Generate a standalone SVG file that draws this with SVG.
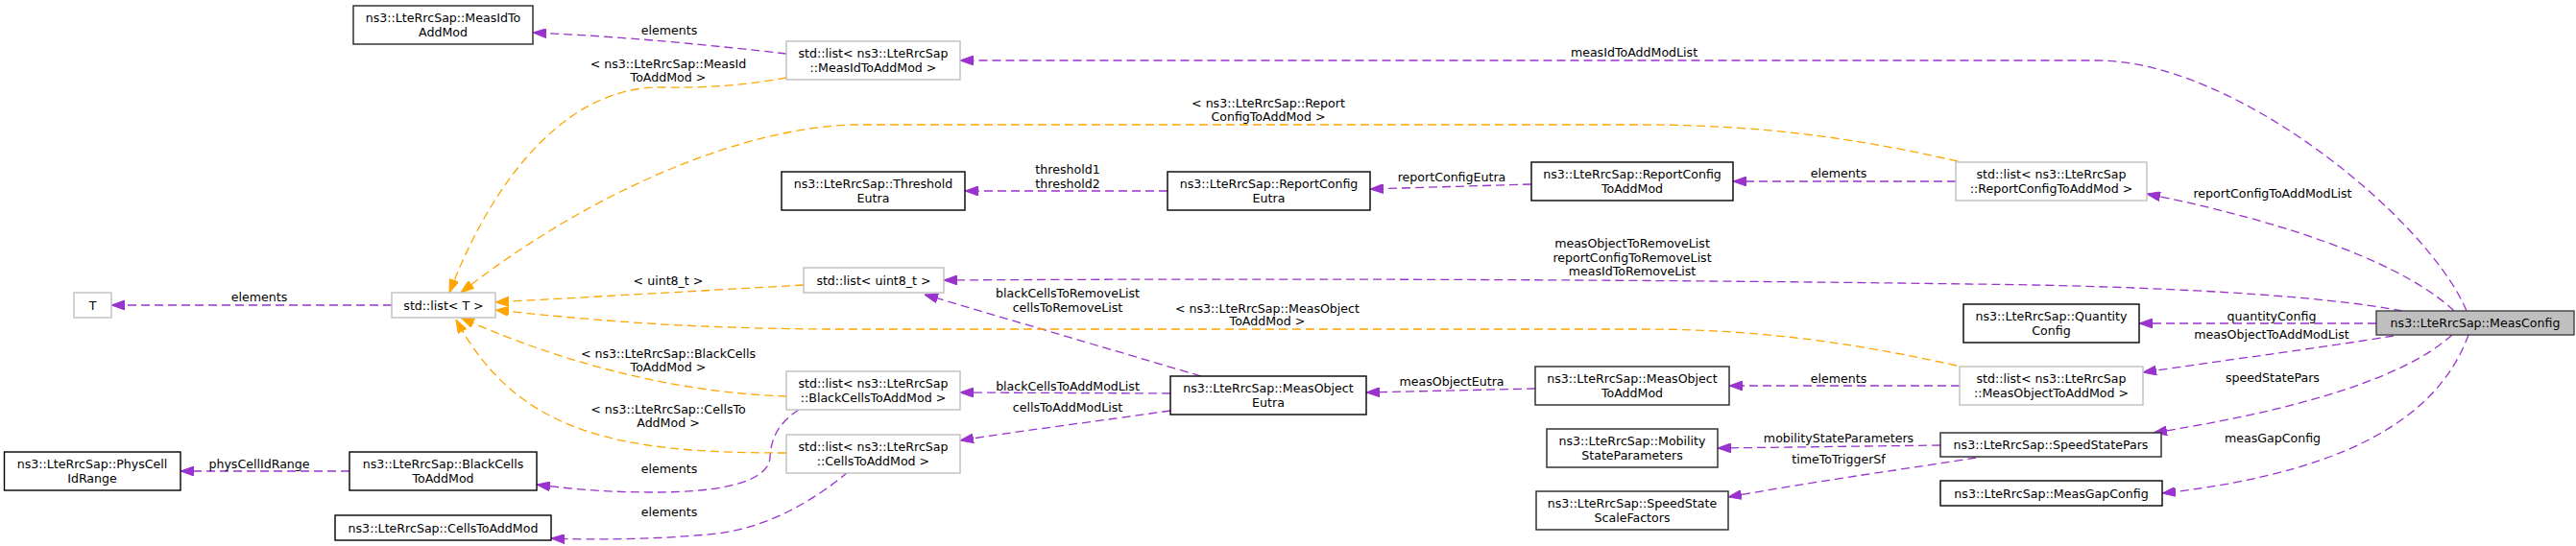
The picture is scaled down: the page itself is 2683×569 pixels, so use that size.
<svg xmlns="http://www.w3.org/2000/svg" width="2683" height="569" viewBox="0 0 2683 569">
<style>
text{font-family:"DejaVu Sans","Liberation Sans",sans-serif;font-size:12.6px;fill:#000;text-anchor:middle}
.n rect{fill:#fff;stroke:#000;stroke-width:1.4}
.g rect{fill:#fff;stroke:#333;stroke-width:1.5}
.l rect{fill:#fff;stroke:#bfbfbf;stroke-width:1.4}
.h rect{fill:#bfbfbf;stroke:#404040;stroke-width:1.4}
.p{fill:none;stroke:#9a32cd;stroke-width:1.3;stroke-dasharray:9,5;marker-end:url(#ap)}
.o{fill:none;stroke:#ffa500;stroke-width:1.3;stroke-dasharray:9,5;marker-end:url(#ao)}
</style>
<defs>
<marker id="ap" markerUnits="userSpaceOnUse" markerWidth="14" markerHeight="10" refX="14" refY="5" orient="auto"><path d="M0,0 L14,5 L0,10 Z" fill="#9a32cd" stroke="#9a32cd" stroke-width="1"/></marker>
<marker id="ao" markerUnits="userSpaceOnUse" markerWidth="14" markerHeight="10" refX="14" refY="5" orient="auto"><path d="M0,0 L14,5 L0,10 Z" fill="#ffa500" stroke="#ffa500" stroke-width="1"/></marker>
</defs>
<rect width="2683" height="569" fill="#fff"/>
<g id="connectors">
<path class="p" d="M2569,324 C2530,230 2330,63 2184,63 L1000,63"/>
<text x="1702" y="58.5">measIdToAddModList</text>
<path class="p" d="M2556,324 C2510,280 2400,235 2236,202"/>
<text x="2367" y="205.5">reportConfigToAddModList</text>
<path class="p" d="M2502,324 C2420,308 2250,298 2050,296 C1700,291 1300,290 983,292"/>
<text x="1700" y="258">measObjectToRemoveList</text>
<text x="1700" y="272.5">reportConfigToRemoveList</text>
<text x="1700" y="287">measIdToRemoveList</text>
<path class="p" d="M2475,337 L2228,337"/>
<text x="2366" y="333.5">quantityConfig</text>
<path class="p" d="M2493,350 C2420,362 2320,375 2232,388"/>
<text x="2366" y="352.5">measObjectToAddModList</text>
<path class="p" d="M2554,349 C2520,380 2440,420 2243,451"/>
<text x="2367" y="397.5">speedStatePars</text>
<path class="p" d="M2571,349 C2545,420 2470,490 2252,514"/>
<text x="2367" y="460.5">measGapConfig</text>
<path class="p" d="M2037,189 L1805,189"/>
<text x="1915" y="184.5">elements</text>
<path class="p" d="M1595,192 L1427,197"/>
<text x="1512" y="188.5">reportConfigEutra</text>
<path class="p" d="M1216,199 L1005,199"/>
<text x="1112" y="180.5">threshold1</text>
<text x="1112" y="195.5">threshold2</text>
<path class="p" d="M2041,402 L1801,402"/>
<text x="1915" y="398.5">elements</text>
<path class="p" d="M1599,405 L1423,409"/>
<text x="1512" y="401.5">measObjectEutra</text>
<path class="p" d="M1251,392 L963,307"/>
<text x="1112" y="309.5">blackCellsToRemoveList</text>
<text x="1112" y="324.5">cellsToRemoveList</text>
<path class="p" d="M1219,410 L1000,409"/>
<text x="1112" y="406.5">blackCellsToAddModList</text>
<path class="p" d="M1219,428 C1150,438 1070,448 1000,459"/>
<text x="1112" y="428.5">cellsToAddModList</text>
<path class="p" d="M2021,464 L1789,467"/>
<text x="1915" y="460.5">mobilityStateParameters</text>
<path class="p" d="M2058,477 C1990,488 1900,500 1800,518"/>
<text x="1915" y="482.5">timeToTriggerSf</text>
<path class="p" d="M819,56 C740,47 650,38 555,34"/>
<text x="697" y="35.5">elements</text>
<path class="p" d="M408,318 L116,318"/>
<text x="270" y="313.5">elements</text>
<path class="p" d="M364,491 L188,491"/>
<text x="270" y="487.5">physCellIdRange</text>
<path class="p" d="M832,427 C812,440 803,455 802,477 C800,500 760,513 680,513 C630,513 590,509 559,505"/>
<text x="697" y="492.5">elements</text>
<path class="p" d="M883,492 C850,520 800,550 747,556 C690,562 620,563 574,561"/>
<text x="697" y="537.5">elements</text>
<path class="o" d="M819,81 C780,88 740,92 690,91 C600,89 520,170 468,305"/>
<text x="696" y="70.5">&lt; ns3::LteRrcSap::MeasId</text>
<text x="696" y="84.5">ToAddMod &gt;</text>
<path class="o" d="M2039,168 C1950,148 1850,130 1710,130 L890,130 C780,132 620,195 480,305"/>
<text x="1321" y="111.5">&lt; ns3::LteRrcSap::Report</text>
<text x="1321" y="125.5">ConfigToAddMod &gt;</text>
<path class="o" d="M837,297 L516,315"/>
<text x="696" y="296.5">&lt; uint8_t &gt;</text>
<path class="o" d="M2038,381 C1950,362 1850,343 1710,343 L860,343 C700,342 600,332 516,323"/>
<text x="1320" y="325.5">&lt; ns3::LteRrcSap::MeasObject</text>
<text x="1320" y="338.5">ToAddMod &gt;</text>
<path class="o" d="M819,413 C720,410 600,385 480,331"/>
<text x="696" y="372.5">&lt; ns3::LteRrcSap::BlackCells</text>
<text x="696" y="386.5">ToAddMod &gt;</text>
<path class="o" d="M819,472 C650,472 540,455 475,333"/>
<text x="696" y="430.5">&lt; ns3::LteRrcSap::CellsTo</text>
<text x="696" y="444.5">AddMod &gt;</text>
</g>
<g id="MeasConfig" class="h"><rect x="2475" y="324" width="206" height="25"/><text x="2578" y="341">ns3::LteRrcSap::MeasConfig</text></g>
<g id="MeasIdList" class="l"><rect x="819" y="43" width="181" height="40"/><text x="909.5" y="60.3">std::list&lt; ns3::LteRrcSap</text><text x="909.5" y="74.7">::MeasIdToAddMod &gt;</text></g>
<g id="MeasIdToAddMod" class="g"><rect x="368" y="6" width="187" height="40"/><text x="461.5" y="23.3">ns3::LteRrcSap::MeasIdTo</text><text x="461.5" y="37.7">AddMod</text></g>
<g id="ListT" class="l"><rect x="408" y="305" width="108" height="26"/><text x="462" y="322.5">std::list&lt; T &gt;</text></g>
<g id="T" class="l"><rect x="77" y="305" width="39" height="26"/><text x="96.5" y="322.5">T</text></g>
<g id="ReportConfigList" class="l"><rect x="2037" y="169" width="199" height="40"/><text x="2136.5" y="186.3">std::list&lt; ns3::LteRrcSap</text><text x="2136.5" y="200.7">::ReportConfigToAddMod &gt;</text></g>
<g id="ReportConfigToAddMod" class="n"><rect x="1595" y="169" width="210" height="40"/><text x="1700" y="186.3">ns3::LteRrcSap::ReportConfig</text><text x="1700" y="200.7">ToAddMod</text></g>
<g id="ReportConfigEutra" class="n"><rect x="1216" y="179" width="211" height="40"/><text x="1321.5" y="196.3">ns3::LteRrcSap::ReportConfig</text><text x="1321.5" y="210.7">Eutra</text></g>
<g id="ThresholdEutra" class="n"><rect x="814" y="179" width="191" height="40"/><text x="909.5" y="196.3">ns3::LteRrcSap::Threshold</text><text x="909.5" y="210.7">Eutra</text></g>
<g id="Uint8List" class="l"><rect x="837" y="279" width="146" height="26"/><text x="910" y="296.5">std::list&lt; uint8_t &gt;</text></g>
<g id="BlackCellsList" class="l"><rect x="819" y="387" width="181" height="40"/><text x="909.5" y="404.3">std::list&lt; ns3::LteRrcSap</text><text x="909.5" y="418.7">::BlackCellsToAddMod &gt;</text></g>
<g id="CellsList" class="l"><rect x="819" y="453" width="181" height="40"/><text x="909.5" y="470.3">std::list&lt; ns3::LteRrcSap</text><text x="909.5" y="484.7">::CellsToAddMod &gt;</text></g>
<g id="MeasObjectEutra" class="n"><rect x="1219" y="392" width="204" height="40"/><text x="1321" y="409.3">ns3::LteRrcSap::MeasObject</text><text x="1321" y="423.7">Eutra</text></g>
<g id="MeasObjectToAddMod" class="g"><rect x="1599" y="382" width="202" height="40"/><text x="1700" y="399.3">ns3::LteRrcSap::MeasObject</text><text x="1700" y="413.7">ToAddMod</text></g>
<g id="MeasObjectList" class="l"><rect x="2041" y="382" width="191" height="40"/><text x="2136.5" y="399.3">std::list&lt; ns3::LteRrcSap</text><text x="2136.5" y="413.7">::MeasObjectToAddMod &gt;</text></g>
<g id="QuantityConfig" class="n"><rect x="2045" y="317" width="183" height="40"/><text x="2136.5" y="334.3">ns3::LteRrcSap::Quantity</text><text x="2136.5" y="348.7">Config</text></g>
<g id="SpeedStatePars" class="g"><rect x="2021" y="451" width="230" height="25"/><text x="2136" y="468">ns3::LteRrcSap::SpeedStatePars</text></g>
<g id="MeasGapConfig" class="n"><rect x="2021" y="501" width="231" height="26"/><text x="2136.5" y="518.5">ns3::LteRrcSap::MeasGapConfig</text></g>
<g id="MobilityStateParameters" class="g"><rect x="1611" y="447" width="178" height="40"/><text x="1700" y="464.3">ns3::LteRrcSap::Mobility</text><text x="1700" y="478.7">StateParameters</text></g>
<g id="SpeedStateScaleFactors" class="g"><rect x="1600" y="512" width="200" height="40"/><text x="1700" y="529.3">ns3::LteRrcSap::SpeedState</text><text x="1700" y="543.7">ScaleFactors</text></g>
<g id="PhysCellIdRange" class="n"><rect x="4.5" y="471" width="183.5" height="40"/><text x="96" y="488.3">ns3::LteRrcSap::PhysCell</text><text x="96" y="502.7">IdRange</text></g>
<g id="BlackCellsToAddMod" class="n"><rect x="364" y="471" width="195" height="40"/><text x="461.5" y="488.3">ns3::LteRrcSap::BlackCells</text><text x="461.5" y="502.7">ToAddMod</text></g>
<g id="CellsToAddMod" class="n"><rect x="349" y="537" width="225" height="26"/><text x="461.5" y="554.5">ns3::LteRrcSap::CellsToAddMod</text></g>
</svg>
